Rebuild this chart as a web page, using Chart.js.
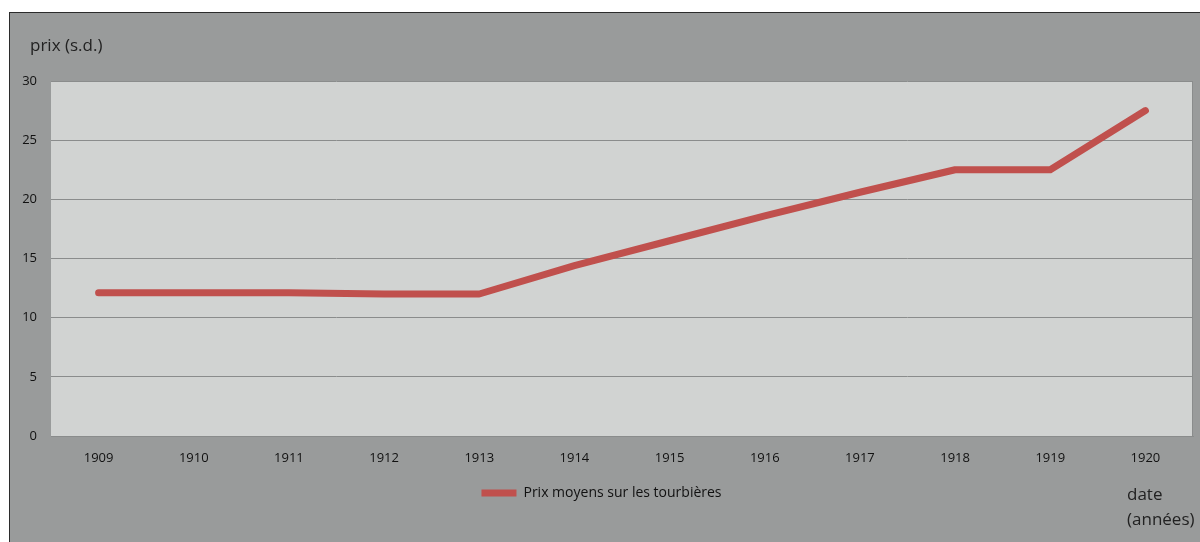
<!DOCTYPE html>
<html>
<head>
<meta charset="utf-8">
<script src="https://cdn.jsdelivr.net/npm/chart.js@4/dist/chart.umd.min.js"></script>
<style>
  body { margin: 0; background: #ffffff; }
  #frame {
    position: absolute; left: 9px; top: 12px;
    width: 1191px; height: 530px;
    border-left: 1px solid #2b2b2b; border-top: 1px solid #2b2b2b;
    background: #999b9b;
  }
  #wrap { width: 1190px; height: 529px; }
</style>
</head>
<body>
<div id="frame"><div id="wrap"><canvas id="prix"></canvas></div></div>
<script>
// years on the x axis
var years = ['1909', '1910', '1911', '1912', '1913', '1914', '1915', '1916', '1917', '1918', '1919', '1920'];
// average price (s.d.)
var prixMoyens = [12.1, 12.1, 12.1, 12.0, 12.0, 14.4, 16.5, 18.6, 20.6, 22.5, 22.5, 27.5];
var yTicks = [0, 5, 10, 15, 20, 25, 30];

var fontFamily = "'Open Sans', 'Noto Sans', sans-serif";

// grey plot background, right edge line + the two axis captions
var decor = {
  id: 'decor',
  beforeDraw: function (chart) {
    var ctx = chart.ctx, a = chart.chartArea;
    ctx.save();
    ctx.fillStyle = '#d1d3d2';
    ctx.fillRect(a.left, a.top, a.right - a.left, a.bottom - a.top);
    ctx.strokeStyle = '#8a8c8c';
    ctx.lineWidth = 1;
    ctx.beginPath();
    ctx.moveTo(a.right - 0.5, a.top);
    ctx.lineTo(a.right - 0.5, a.bottom);
    ctx.stroke();
    ctx.restore();
  },
  afterDraw: function (chart) {
    var ctx = chart.ctx;
    ctx.save();
    ctx.fillStyle = '#222222';
    ctx.font = '17px ' + fontFamily;
    ctx.textBaseline = 'middle';
    ctx.fillText('prix (s.d.)', 20, 33);
    ctx.fillText('date', 1117, 482);
    ctx.fillText('(années)', 1117, 507);
    ctx.restore();
  }
};

var chartEl = document.getElementById('prix');
var myChart = new Chart(chartEl, {
  type: 'line',
  data: {
    labels: years,
    datasets: [{
      label: 'Prix moyens sur les tourbières',
      data: prixMoyens,
      borderColor: '#c0504d',
      backgroundColor: '#c0504d',
      borderWidth: 7,
      borderCapStyle: 'round',
      borderJoinStyle: 'round',
      pointRadius: 0,
      pointStyle: 'line',
      tension: 0
    }]
  },
  options: {
    responsive: true,
    maintainAspectRatio: false,
    animation: false,
    layout: {
      padding: { top: 68, right: 7, bottom: 32, left: 0 }
    },
    plugins: {
      legend: {
        display: true,
        position: 'bottom',
        labels: {
          usePointStyle: true,
          pointStyleWidth: 35,
          boxHeight: 7,
          padding: 12,
          color: '#111111',
          font: { family: fontFamily, size: 14 }
        }
      },
      tooltip: { enabled: false }
    },
    scales: {
      x: {
        offset: true,
        grid: { display: false, drawTicks: false },
        border: { display: true, color: '#8a8c8c', width: 1 },
        ticks: {
          padding: 14,
          color: '#111111',
          font: { family: fontFamily, size: 13 }
        },
        afterFit: function (s) { s.height = 38; }
      },
      y: {
        min: 0,
        max: 30,
        afterBuildTicks: function (s) { s.ticks = yTicks.map(function (v) { return { value: v }; }); },
        grid: { color: '#8a8c8c', lineWidth: 1, drawTicks: false },
        border: { display: false },
        ticks: {
          padding: 14,
          color: '#111111',
          font: { family: fontFamily, size: 13 }
        },
        afterFit: function (s) { s.width = 41; }
      }
    }
  },
  plugins: [decor]
});
</script>
</body>
</html>
